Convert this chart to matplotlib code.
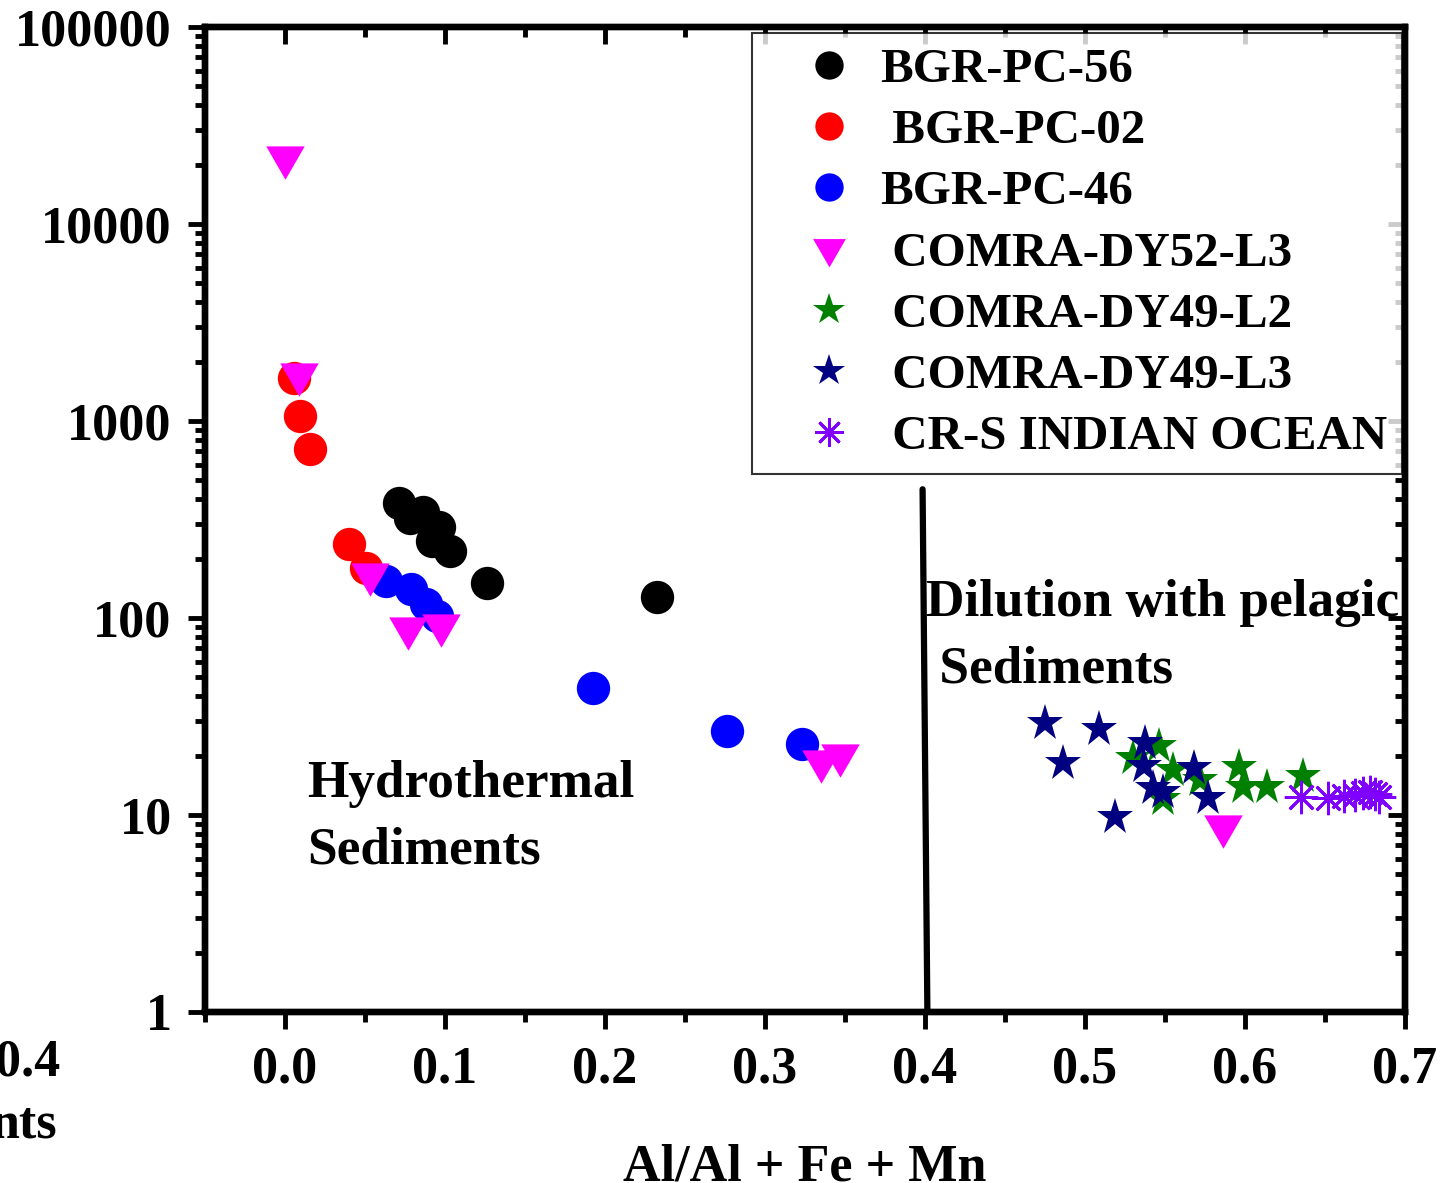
import matplotlib
matplotlib.use("Agg")
import matplotlib.pyplot as plt
from matplotlib.ticker import LogLocator, FixedLocator, MultipleLocator, FuncFormatter, NullFormatter

plt.rcParams['font.family'] = ['Liberation Serif', 'DejaVu Serif']
plt.rcParams['font.weight'] = 'bold'

# --- datos ---
pc56_x = [0.071, 0.086, 0.078, 0.096, 0.092, 0.103, 0.126, 0.2325]
pc56_y = [385, 345, 320, 290, 245, 218, 151, 128]

pc02_x = [0.0056, 0.0093, 0.0157, 0.040, 0.0506]
pc02_y = [1650, 1060, 720, 238, 179]

pc46_x = [0.063, 0.079, 0.088, 0.095, 0.1925, 0.276, 0.323]
pc46_y = [154, 140, 118, 102, 44, 26.7, 22.9]

dy52_x = [0.0, 0.0088, 0.053, 0.077, 0.0975, 0.335, 0.347, 0.586]
dy52_y = [22000, 1730, 167, 89, 92, 18.8, 20.2, 8.8]

dy49l2_x = [0.530, 0.546, 0.555, 0.549, 0.572, 0.596, 0.599, 0.614, 0.636]
dy49l2_y = [19.5, 22.5, 17.0, 12.0, 15.0, 17.5, 13.8, 13.8, 15.8]

dy49l3_x = [0.475, 0.509, 0.486, 0.519, 0.5375, 0.537, 0.5425, 0.549, 0.568, 0.577]
dy49l3_y = [29.3, 27.3, 18.4, 9.8, 23.2, 17.7, 13.7, 13.1, 17.3, 12.2]

crs_x = [0.635, 0.652, 0.662, 0.669, 0.674, 0.678, 0.681, 0.684]
crs_y = [12.3, 12.2, 12.5, 12.6, 12.9, 13.0, 12.7, 12.4]

# linea divisoria (inclinada un poco, como en el original)
div_x = [0.3985, 0.4015]
div_y = [450, 1]

fig = plt.figure(figsize=(14.42, 11.83), dpi=100)
ax = fig.add_axes([0.1422, 0.1446, 0.8321, 0.8326])

tri = (3, 0, 180)
ax.plot(pc56_x, pc56_y, 'o', color='black', ms=24, mew=0, label='BGR-PC-56')
ax.plot(pc02_x, pc02_y, 'o', color='#FF0000', ms=24, mew=0, label=' BGR-PC-02')
ax.plot(pc46_x, pc46_y, 'o', color='#0000FF', ms=24, mew=0, label='BGR-PC-46')
ax.plot(dy52_x, dy52_y, marker=tri, ls='none', color='#FF00FF', ms=32, mew=0, label=' COMRA-DY52-L3')
ax.plot(dy49l2_x, dy49l2_y, '*', color='#008000', ms=28, mew=0, label=' COMRA-DY49-L2')
ax.plot(dy49l3_x, dy49l3_y, '*', color='#000080', ms=28, mew=0, label=' COMRA-DY49-L3')
ax.plot(crs_x, crs_y, marker=(8, 2, 0), ls='none', color='#8000FF', ms=24, mew=2, label=' CR-S INDIAN OCEAN')

ax.plot(div_x, div_y, color='black', lw=4.5, solid_capstyle='round')

ax.set_yscale('log')
ax.set_xlim(-0.05, 0.70)
ax.set_ylim(1, 100000)

ax.xaxis.set_major_locator(FixedLocator([0.0, 0.1, 0.2, 0.3, 0.4, 0.5, 0.6, 0.7]))
ax.xaxis.set_minor_locator(MultipleLocator(0.05))
ax.xaxis.set_major_formatter(FuncFormatter(lambda v, p: '%.1f' % v))
ax.yaxis.set_major_locator(LogLocator(base=10, numticks=10))
ax.yaxis.set_minor_locator(LogLocator(base=10, subs=range(2, 10), numticks=20))
ax.yaxis.set_major_formatter(FuncFormatter(lambda v, p: '%d' % round(v)))
ax.yaxis.set_minor_formatter(NullFormatter())

for s in ax.spines.values():
    s.set_linewidth(4.5)

ax.tick_params(which='major', direction='out', length=12, width=3.5, labelsize=37.5, pad=12)
ax.tick_params(which='minor', direction='out', length=7, width=3.5)

# ticks espejo hacia adentro en arriba y derecha
top = ax.twiny()
top.set_xlim(ax.get_xlim())
top.xaxis.set_major_locator(FixedLocator([0.0, 0.1, 0.2, 0.3, 0.4, 0.5, 0.6, 0.7]))
top.xaxis.set_minor_locator(MultipleLocator(0.05))
top.tick_params(which='major', direction='in', length=12, width=3.5, labeltop=False)
top.tick_params(which='minor', direction='in', length=7, width=3.5)
right = ax.twinx()
right.set_yscale('log')
right.set_ylim(ax.get_ylim())
right.yaxis.set_major_locator(LogLocator(base=10, numticks=10))
right.yaxis.set_minor_locator(LogLocator(base=10, subs=range(2, 10), numticks=20))
right.tick_params(which='major', direction='in', length=12, width=3.5, labelright=False)
right.tick_params(which='minor', direction='in', length=7, width=3.5)
right.yaxis.set_minor_formatter(NullFormatter())
for a in (top, right):
    for s in a.spines.values():
        s.set_linewidth(4.5)

ax.set_xlabel('Al/Al + Fe + Mn', fontsize=37.5, fontweight='bold', labelpad=36)

ax.text(0.014, 9.7, 'Hydrothermal\nSediments', fontsize=38.3, fontweight='bold',
        ha='left', va='center', linespacing=1.5)
ax.text(0.4005, 81, 'Dilution with pelagic\n Sediments', fontsize=38.3, fontweight='bold',
        ha='left', va='center', linespacing=1.5)

leg = right.legend(*ax.get_legend_handles_labels(), loc='upper right',
                   bbox_to_anchor=(0.9975, 0.994), borderaxespad=0,
                   frameon=True, fancybox=False, edgecolor='black',
                   markerscale=0.85, handlelength=2.54, handletextpad=-0.23,
                   labelspacing=0.345, borderpad=0.3, prop={'weight': 'bold', 'size': 35.3})
leg.get_frame().set_linewidth(1.5)

# restos del panel vecino recortado a la izquierda
fig.text(0.042, 1 - 1062 / 1183, '0.4', fontsize=37.5, fontweight='bold', ha='right', va='center')
fig.text(0.040, 1 - 1125 / 1183, 'nts', fontsize=37.5, fontweight='bold', ha='right', va='center')

fig.savefig('out.png', dpi=100)
